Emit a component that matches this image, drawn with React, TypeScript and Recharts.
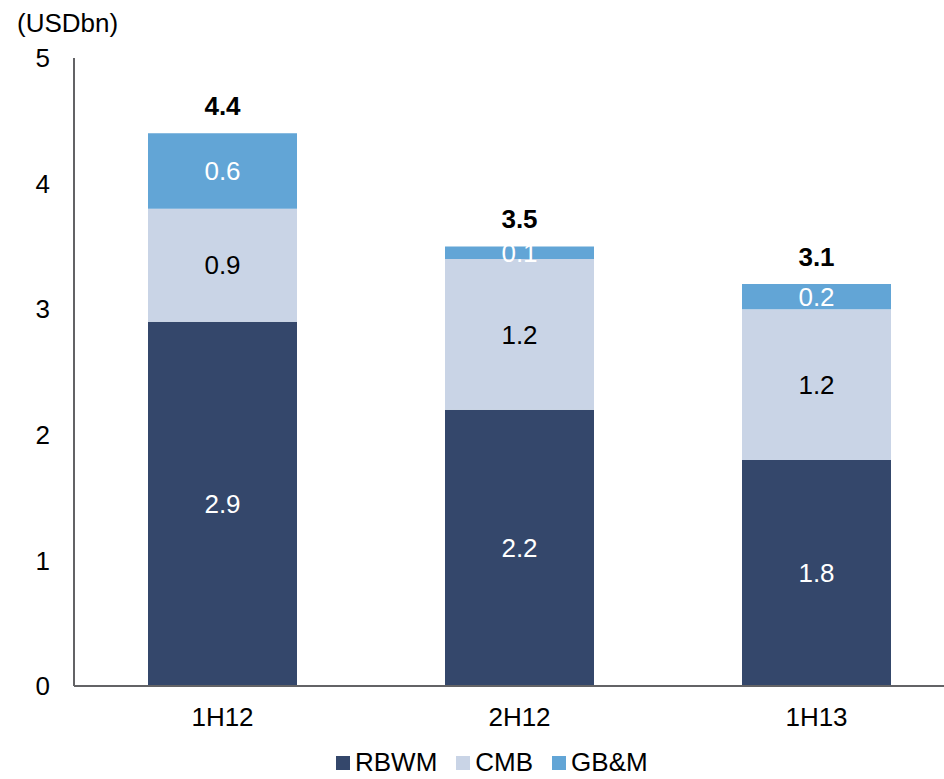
import React from 'react';
import { BarChart, Bar, XAxis, YAxis, Legend, LabelList } from 'recharts';

const categories = ['1H12', '2H12', '1H13'];
const rbwmValues = [2.9, 2.2, 1.8];
const cmbValues = [0.9, 1.2, 1.2];
const gbmValues = [0.6, 0.1, 0.2];
const totalLabels = ['4.4', '3.5', '3.1'];
const yTicks = [0, 1, 2, 3, 4, 5];
const seriesNames = ['RBWM', 'CMB', 'GB&M'];
const seriesKeys = ['RBWM', 'CMB', 'GBM'];
const seriesColors = ['#34476b', '#c9d4e6', '#62a5d6'];
const labelColors = ['#ffffff', '#000000', '#ffffff'];
const unitLabel = '(USDbn)';

const FONT = '"Liberation Sans", Arial, sans-serif';
const FS = 26;
const AXIS_COLOR = '#636366';

const data = categories.map((c, i) => ({
  name: c,
  RBWM: rbwmValues[i],
  CMB: cmbValues[i],
  GBM: gbmValues[i],
}));

const renderLegend = () => (
  <div
    style={{
      height: 48,
      paddingTop: 18,
      paddingLeft: 336,
      boxSizing: 'border-box',
      display: 'flex',
      alignItems: 'flex-start',
      fontFamily: FONT,
      fontSize: FS,
      color: '#000',
      lineHeight: '26px',
    }}
  >
    {seriesNames.map((n, i) => (
      <div key={n} style={{ display: 'flex', alignItems: 'center', marginRight: 19 }}>
        <span style={{ width: 14, height: 14, background: seriesColors[i], marginRight: 5, display: 'inline-block', marginTop: 1 }} />
        <span>{n}</span>
      </div>
    ))}
  </div>
);

const TotalLabel = (props: any) => {
  const { x, y, width, index } = props;
  return (
    <text
      x={Number(x) + Number(width) / 2}
      y={Number(y) - 18}
      textAnchor="middle"
      fontFamily={FONT}
      fontSize={FS}
      fontWeight="bold"
      fill="#000"
    >
      {totalLabels[index]}
    </text>
  );
};

const UnitLabel = () => (
  <text x={17} y={32} fontFamily={FONT} fontSize={FS} fill="#000">
    {unitLabel}
  </text>
);

export default function App() {
  return (
    <div style={{ position: 'absolute', left: 0, top: 0, width: 944, height: 779, overflow: 'hidden', background: '#fff' }}>
      <BarChart
        width={965}
        height={779}
        data={data}
        margin={{ top: 58, right: 0, left: 0, bottom: 0 }}
        barSize={149}
      >
        <XAxis
          dataKey="name"
          height={45}
          tickLine={false}
          axisLine={{ stroke: AXIS_COLOR, strokeWidth: 2 }}
          tickSize={6}
          tickMargin={16}
          tick={{ fontFamily: FONT, fontSize: FS, fill: '#000' }}
          interval={0}
        />
        <YAxis
          width={74}
          domain={[0, 5]}
          ticks={yTicks}
          tickLine={false}
          axisLine={{ stroke: AXIS_COLOR, strokeWidth: 2 }}
          tickSize={6}
          tickMargin={18}
          tick={{ fontFamily: FONT, fontSize: FS, fill: '#000' }}
          label={<UnitLabel />}
        />
        <Legend verticalAlign="bottom" content={renderLegend} height={48} />
        {seriesKeys.map((k, i) => (
          <Bar key={k} dataKey={k} name={seriesNames[i]} stackId="a" fill={seriesColors[i]} isAnimationActive={false}>
            <LabelList
              dataKey={k}
              position="center"
              fill={labelColors[i]}
              fontFamily={FONT}
              fontSize={FS}
              formatter={(v: any) => Number(v).toFixed(1)}
            />
            {i === seriesKeys.length - 1 && <LabelList dataKey={k} content={<TotalLabel />} />}
          </Bar>
        ))}
      </BarChart>
    </div>
  );
}
